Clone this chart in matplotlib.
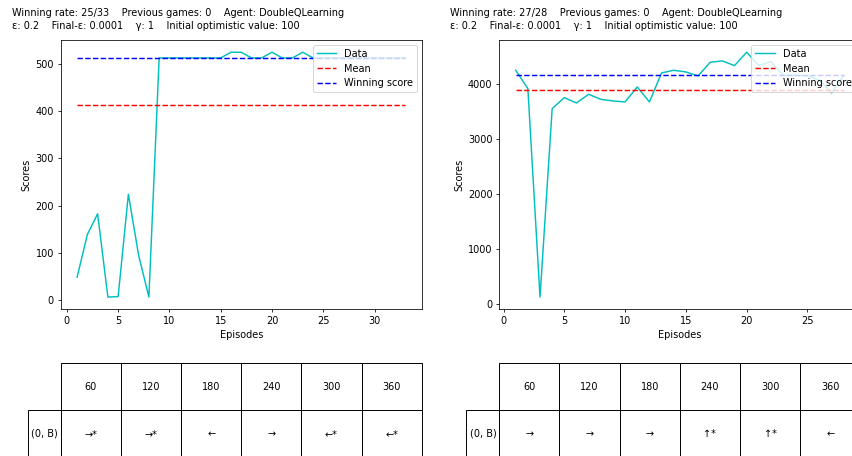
import matplotlib
matplotlib.use("Agg")
import matplotlib.pyplot as plt
from matplotlib.table import Table

# Run 1 (left panel)
scores_a = [49, 139, 183, 7, 8, 224, 95, 7,
            512, 512, 512, 512, 512, 512, 512, 524, 524, 512, 512, 524,
            512, 512, 524, 512, 512, 512, 512, 512, 512, 512, 512, 512, 512]
mean_a = 412
win_a = 512
header_a = ["Winning rate: 25/33    Previous games: 0    Agent: DoubleQLearning",
            "ε: 0.2    Final-ε: 0.0001    γ: 1    Initial optimistic value: 100"]
policy_a = ["→*", "→*", "←", "→", "←*", "←*"]

# Run 2 (right panel)
scores_b = [4242, 3909, 121, 3545, 3745, 3648, 3806, 3715, 3685, 3667,
            3939, 3667, 4194, 4242, 4212, 4139, 4388, 4412, 4327, 4570,
            4330, 4400, 4150, 4150, 4140, 4060, 3830, 4150]
mean_b = 3890
win_b = 4150
header_b = ["Winning rate: 27/28    Previous games: 0    Agent: DoubleQLearning",
            "ε: 0.2    Final-ε: 0.0001    γ: 1    Initial optimistic value: 100"]
policy_b = ["→", "→", "→", "↑*", "↑*", "←"]

# table labels (shared)
time_steps = ["60", "120", "180", "240", "300", "360"]
state_label = "(0, B)"

W, H, DPI = 852, 456, 70
AX_W, AX_H = 361, 269.3   # axes size in px


def panel(fig, left_px, scores, mean, win, header, policy):
    ax = fig.add_axes([left_px / W, (H - 309.3) / H, AX_W / W, AX_H / H])
    episodes = list(range(1, len(scores) + 1))
    ax.plot(episodes, scores, "c", label="Data")
    ax.plot(episodes, [mean] * len(episodes), "r--", label="Mean")
    ax.plot(episodes, [win] * len(episodes), "b--", label="Winning score")
    ax.set_xlabel("Episodes")
    ax.set_ylabel("Scores")
    ax.legend(loc="upper right")

    # run info above the plot
    x0 = (left_px - 49) / W
    fig.text(x0, 1 - 16 / H, header[0], va="baseline")
    fig.text(x0, 1 - 29.3 / H, header[1], va="baseline")

    # policy table below the plot (sizes in axes units so bbox scale is 1)
    cw = 1 / len(time_steps)
    rh = 47 / AX_H
    tab = Table(ax, bbox=[0, -0.5496, 1, 2 * rh])
    for j, lab in enumerate(time_steps):
        tab.add_cell(0, j, width=cw, height=rh, text=lab, loc="center")
    tab.add_cell(1, -1, width=33 / AX_W, height=rh, text=state_label, loc="left")
    for j, val in enumerate(policy):
        tab.add_cell(1, j, width=cw, height=rh, text=val, loc="center")
    tab.auto_set_font_size(False)
    tab.set_fontsize(10)
    ax.add_table(tab)
    return ax


def main():
    fig = plt.figure(figsize=(W / DPI, H / DPI), dpi=DPI)
    panel(fig, 60.7, scores_a, mean_a, win_a, header_a, policy_a)
    panel(fig, 499.3, scores_b, mean_b, win_b, header_b, policy_b)
    fig.savefig("out.png", dpi=DPI)


if __name__ == "__main__":
    main()
